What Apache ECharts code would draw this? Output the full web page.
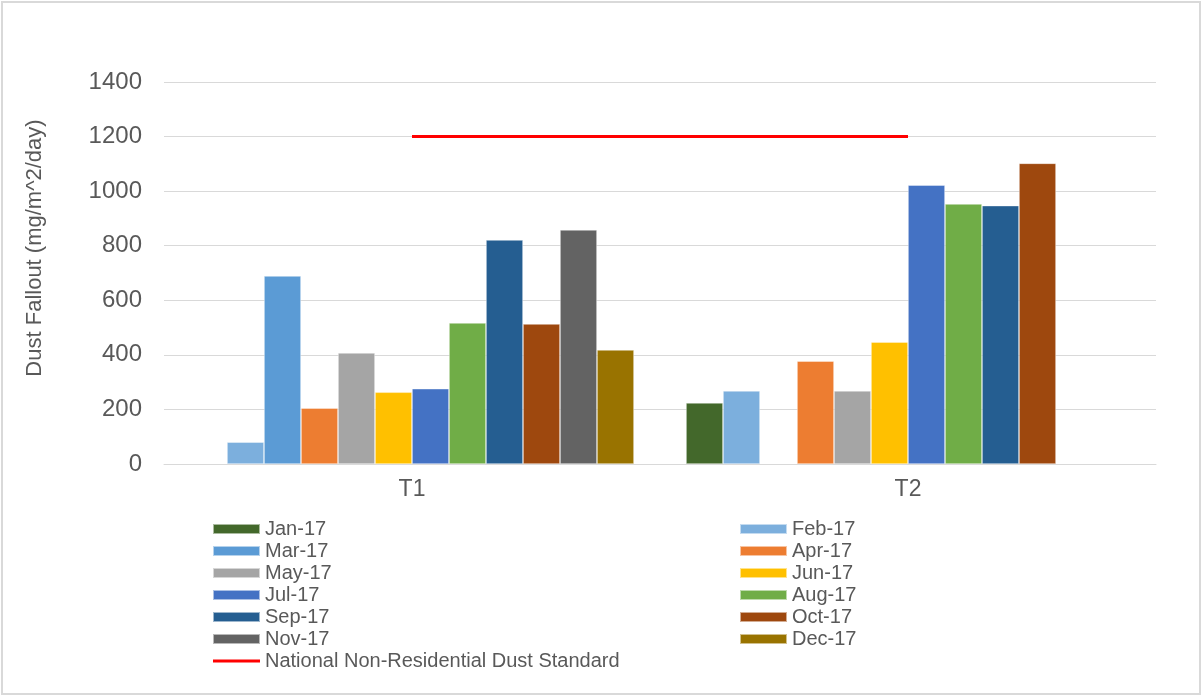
<!DOCTYPE html>
<html>
<head>
<meta charset="utf-8">
<title>Dust Fallout</title>
<script src="https://cdn.jsdelivr.net/npm/echarts@6/dist/echarts.min.js"></script>
<style>
  html, body { margin: 0; padding: 0; background: #ffffff; }
  #chart { width: 1203px; height: 697px; }
</style>
</head>
<body>
<div id="chart"></div>
<script>
// Monitoring sites on the category axis
const sites = ['T1', 'T2'];

// Sampling months (one bar series each)
const months = ['Jan-17', 'Feb-17', 'Mar-17', 'Apr-17', 'May-17', 'Jun-17',
                'Jul-17', 'Aug-17', 'Sep-17', 'Oct-17', 'Nov-17', 'Dec-17'];

// Dust fallout per month, mg/m^2/day (null = no sample)
const t1Values = [null, 80, 689, 205, 407, 263, 276, 517, 821, 513, 858, 418];
const t2Values = [224, 268, null, 377, 268, 447, 1022, 953, 947, 1102, null, null];

// National non-residential standard
const standardName = 'National Non-Residential Dust Standard';
const standardValue = 1200;

const yTicks = { min: 0, max: 1400, interval: 200 };

const monthColors = ['#43682B', '#7CAFDD', '#5B9BD5', '#ED7D31', '#A5A5A5', '#FFC000',
                     '#4472C4', '#70AD47', '#255E91', '#9E480E', '#636363', '#997300'];

const fontFamily = "'Liberation Sans', Arial, sans-serif";
const textColor = '#595959';

const barSeries = months.map((m, i) => ({
  name: m,
  type: 'bar',
  barWidth: 37,
  barGap: '0%',
  data: [t1Values[i], t2Values[i]],
  itemStyle: { color: monthColors[i], borderColor: 'rgba(255,255,255,0.55)', borderWidth: 0.7 },
  emphasis: { disabled: true }
}));

const lineSeries = {
  name: standardName,
  type: 'line',
  data: sites.map(() => standardValue),
  symbol: 'none',
  lineStyle: { color: '#FF0000', width: 3 },
  itemStyle: { color: '#FF0000' },
  emphasis: { disabled: true },
  z: 5
};

// Legend swatch for the standard: a thin horizontal stroke inside a 47x10 box
const lineIcon = 'path://M0,0L0.01,0Z M0,3.5L47,3.5L47,6.5L0,6.5Z M46.99,10L47,10Z';

const legendBase = {
  orient: 'vertical',
  top: 518,
  padding: 0,
  itemWidth: 47,
  itemHeight: 10,
  itemGap: 0,
  selectedMode: false,
  textStyle: { color: textColor, fontSize: 20, fontFamily: fontFamily, lineHeight: 22 }
};

const leftItems = months.filter((m, i) => i % 2 === 0).map(m => ({ name: m, icon: 'rect' }));
leftItems.push({ name: standardName, icon: lineIcon });
const rightItems = months.filter((m, i) => i % 2 === 1).map(m => ({ name: m, icon: 'rect' }));

const chart = echarts.init(document.getElementById('chart'), null, { renderer: 'canvas' });

chart.setOption({
  animation: false,
  backgroundColor: '#ffffff',
  textStyle: { fontFamily: fontFamily },
  graphic: [{
    type: 'rect',
    shape: { x: 2, y: 2, width: 1198, height: 692 },
    style: { fill: 'none', stroke: '#D9D9D9', lineWidth: 2 },
    silent: true
  }],
  grid: { left: 164, right: 47, top: 82, bottom: 233 },
  legend: [
    Object.assign({}, legendBase, { left: 212, data: leftItems }),
    Object.assign({}, legendBase, { left: 739, data: rightItems })
  ],
  xAxis: {
    type: 'category',
    data: sites,
    axisLine: { lineStyle: { color: '#D9D9D9', width: 1 } },
    axisTick: { show: false },
    axisLabel: { color: textColor, fontSize: 23, margin: 14, fontFamily: fontFamily }
  },
  yAxis: {
    type: 'value',
    min: yTicks.min,
    max: yTicks.max,
    interval: yTicks.interval,
    name: 'Dust Fallout (mg/m^2/day)',
    nameLocation: 'middle',
    nameGap: 118,
    nameTextStyle: { color: textColor, fontSize: 22, fontFamily: fontFamily, padding: [0, 0, 0, 50] },
    axisLine: { show: false },
    axisTick: { show: false },
    axisLabel: { color: textColor, fontSize: 24, margin: 22, fontFamily: fontFamily, formatter: v => String(v) },
    splitLine: { lineStyle: { color: '#D9D9D9', width: 1 } }
  },
  series: barSeries.concat([lineSeries])
});
</script>
</body>
</html>
